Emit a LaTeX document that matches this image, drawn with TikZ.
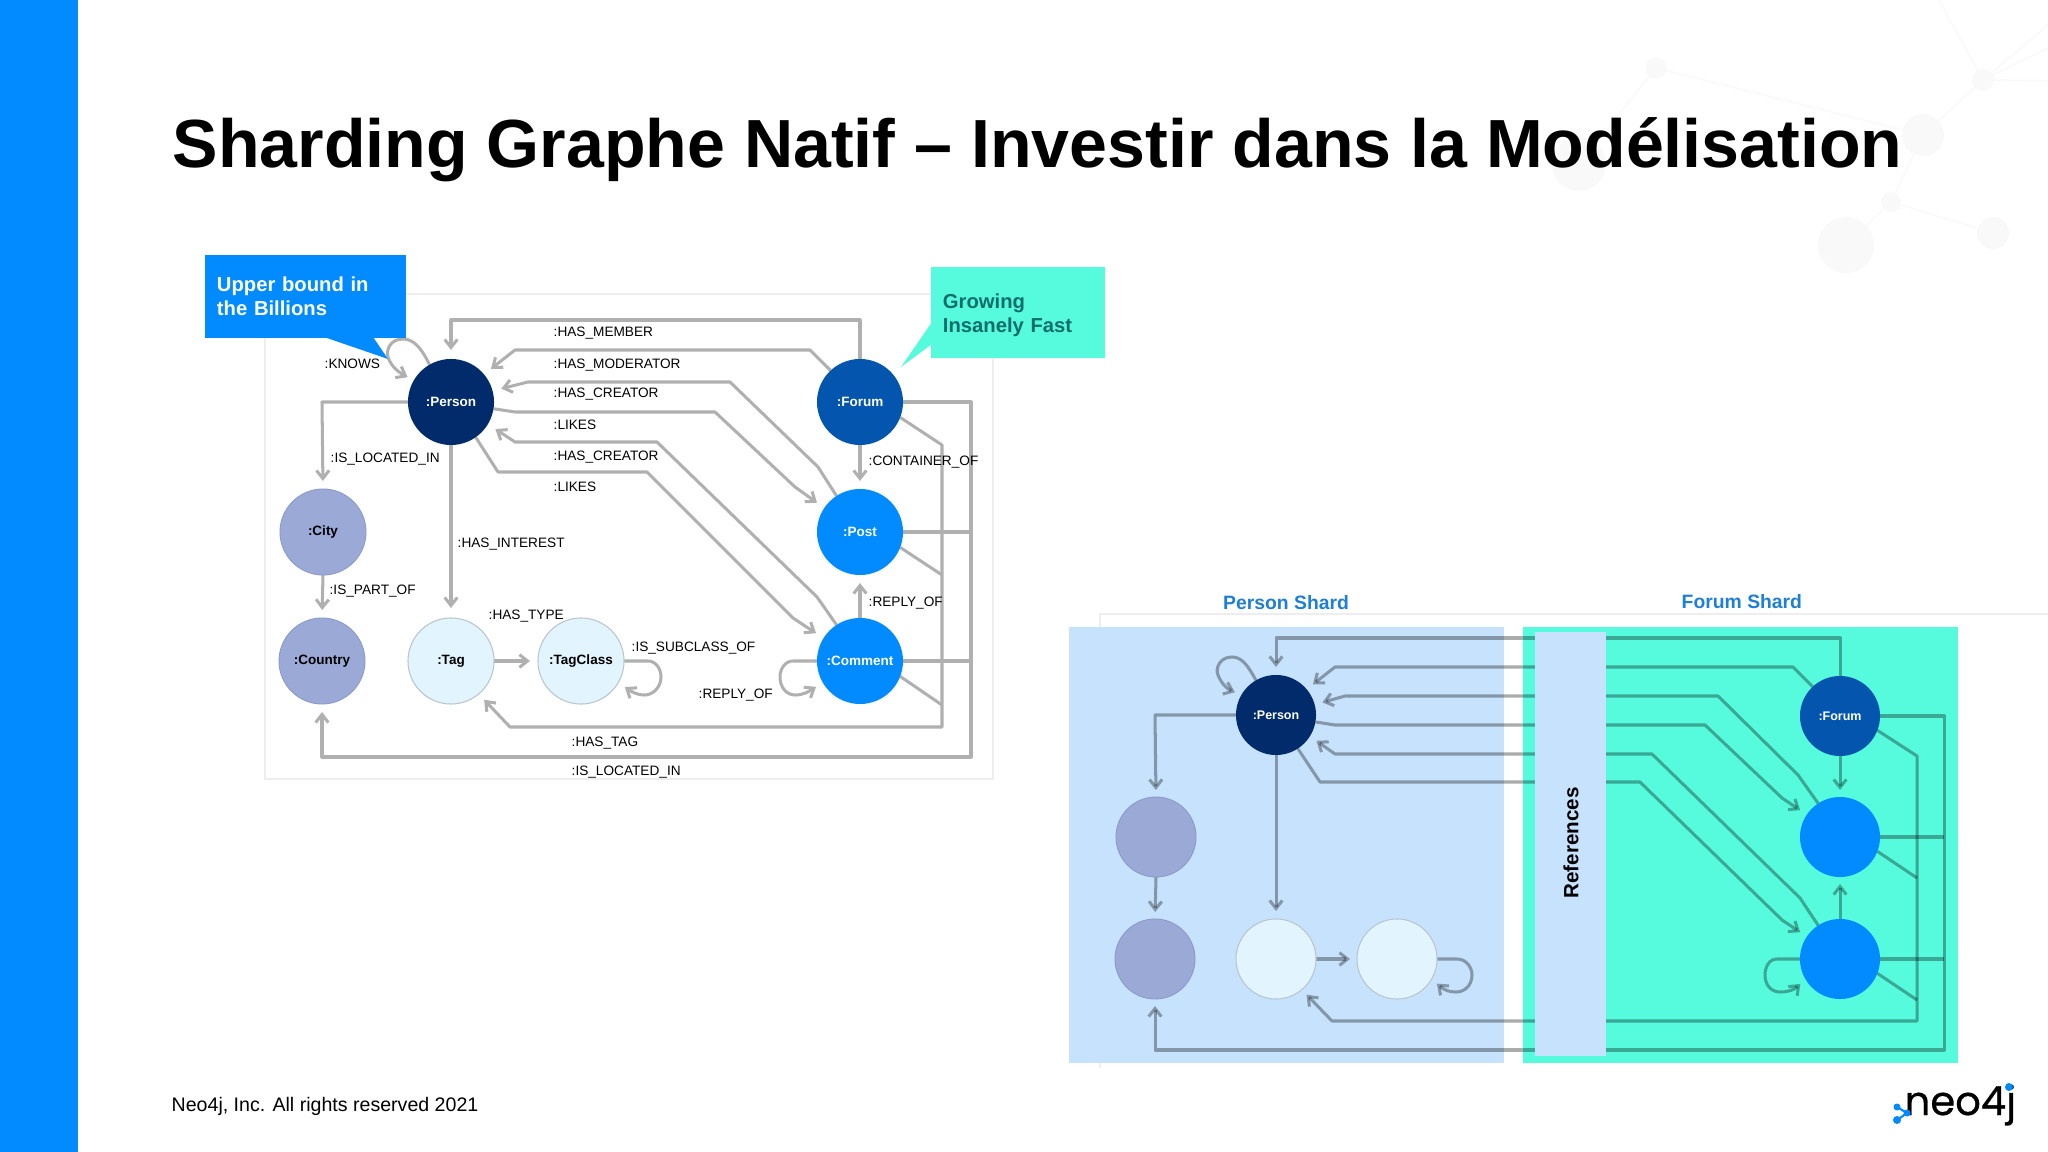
\documentclass[tikz,border=0pt]{standalone}
\usepackage{fontspec}
\usetikzlibrary{arrows.meta}
\setmainfont{Liberation Sans}
\newfontfamily\logofont[FakeBold=0.7]{Poppins}
\definecolor{barblue}{HTML}{018BFF}
\definecolor{teal}{HTML}{56FBDE}
\definecolor{shardblue}{HTML}{C6E2FD}
\definecolor{navy}{HTML}{012B6B}
\definecolor{forumblue}{HTML}{0455AE}
\definecolor{lav}{HTML}{9AA9D6}
\definecolor{pale}{HTML}{E2F4FD}
\definecolor{palerim}{HTML}{B9C6CE}
\definecolor{lavrim}{HTML}{8B9AC8}
\definecolor{edgegray}{HTML}{B0B0B0}
\definecolor{paneledge}{HTML}{EEEEF0}
\definecolor{faint}{HTML}{F9F9F9}
\definecolor{fainter}{HTML}{FAFAFA}
\definecolor{shardtext}{HTML}{1F7FD6}
\definecolor{tealtext}{HTML}{0F6E6C}
\pgfdeclarelayer{bg}
\pgfdeclarelayer{lines}
\pgfsetlayers{bg,lines,main}
\tikzset{
  gnode/.style={circle,inner sep=0,outer sep=0,minimum size=.86cm,font=\fontsize{3.84pt}{4.6pt}\selectfont\bfseries},
  snode/.style={circle,inner sep=0,outer sep=0,minimum size=.80cm,font=\fontsize{3.55pt}{4.4pt}\selectfont\bfseries},
  cnavy/.style={fill=navy,text=white},
  cforum/.style={fill=forumblue,text=white},
  cblue/.style={fill=barblue,text=white},
  clav/.style={fill=lav,draw=lavrim,line width=.25pt,text=black},
  cpale/.style={fill=pale,draw=palerim,line width=.3pt,text=black},
  glink/.style={draw=edgegray,line width=.86pt,line join=round},
  slink/.style={draw=black,draw opacity=.33,line width=.86pt,line join=round},
  arr/.style={-{Straight Barb[length=2.3pt,width=3.6pt]},shorten >=#1},
  arr/.default=.09cm,
  lbl/.style={anchor=west,inner sep=0,yshift=-.013cm,font=\fontsize{3.88pt}{4.8pt}\selectfont,text=black},
  callout/.style={rectangle,inner ysep=0,inner xsep=0,align=left,anchor=center,font=\fontsize{5.75pt}{6.95pt}\selectfont\bfseries},
  shardtitle/.style={anchor=base west,inner sep=0,font=\fontsize{5.5pt}{6pt}\selectfont\bfseries,text=shardtext},
  deco/.style={draw=fainter,line width=.5pt},
  decod/.style={circle,fill=faint,inner sep=0,outer sep=0},
}
\begin{document}
\begin{tikzpicture}[x=.01cm,y=-.01cm]
\useasboundingbox (0,0) rectangle (2048,1152);

% background decoration
\begin{pgfonlayer}{bg}
\fill[white] (0,0) rectangle (2048,1152);
\node[decod,minimum size=.22cm] (da) at (1983,80) {};
\node[decod,minimum size=.42cm] (db) at (1923,135) {};
\node[decod,minimum size=.20cm] (dc) at (1891,202) {};
\node[decod,minimum size=.56cm] (dd) at (1846,245) {};
\node[decod,minimum size=.32cm] (de) at (1993,233) {};
\node[decod,minimum size=.21cm] (df) at (1656,68) {};
\node[decod,minimum size=.54cm] (dg) at (1579,164) {};
\coordinate (d1) at (1939,0);
\coordinate (d2) at (2048,25);
\coordinate (d3) at (2048,48);
\coordinate (d4) at (2048,81);
\draw[deco] (da)--(d1) (da)--(d2) (da)--(d3) (da)--(d4) (da)--(db) (db)--(dc) (dc)--(dd) (dc)--(de) (db)--(df) (df)--(dg);
% sidebar
\fill[barblue] (0,0) rectangle (78,1152);
% panels
\draw[paneledge,line width=.35pt] (265,294) rectangle (993,779);
\draw[paneledge,line width=.35pt] (2048,614) -- (1100,614) -- (1100,1068);
\fill[shardblue] (1069,627) rectangle (1504,1063);
\fill[teal] (1523,627) rectangle (1958,1063);
\end{pgfonlayer}

% title and footer
\node[anchor=base west,inner sep=0,font=\fontsize{19.37pt}{22pt}\selectfont\bfseries] (title) at (172,167.5) {Sharding Graphe Natif – Investir dans la Modélisation};
\node[anchor=base west,inner sep=0,font=\fontsize{5.57pt}{7pt}\selectfont] (foot) at (171,1111) {Neo4j, Inc. All rights reserved 2021};

% left graph nodes
\node[gnode,cnavy] (pe) at (451,402) {:Person};
\node[gnode,cforum] (fo) at (860,402) {:Forum};
\node[gnode,cblue] (po) at (860,532) {:Post};
\node[gnode,cblue] (co) at (860,661) {:Comment};
\node[gnode,clav] (ci) at (323,532) {:City};
\node[gnode,clav] (cn) at (322,661) {:Country};
\node[gnode,cpale] (ta) at (451,661) {:Tag\hspace{2.2pt}};
\node[gnode,cpale] (tc) at (581,661) {:TagClass};

\begin{pgfonlayer}{lines}
\draw[glink,arr] (fo.north) -- (860,320) -- (451,320) -- (pe.north);
\draw[glink,arr] (fo.133) -- (810,350) -- (515,350) -- (pe.40);
\draw[glink,arr] (po.123) -- (818,467) -- (730,382) -- (528,382) -- (pe.15);
\draw[glink,arr] (pe.-9) -- (515,412) -- (715,412) -- (795,487) -- (po.146);
\draw[glink,arr] (co.123) -- (817,597) -- (657,442) -- (515,442) -- (pe.-31);
\draw[glink,arr] (pe.-55) -- (498,472) -- (647,472) -- (793,618) -- (co.148);
\draw[glink,arr=.08cm] (pe.west) -- (322,402) -- (ci.north);
\draw[glink,arr=.1cm] (pe.south) -- (ta.north);
\draw[glink,arr=.08cm] (ci.south) -- (cn.north);
\draw[glink,arr=.08cm] (ta.east) -- (tc.west);
\draw[glink,arr=.08cm] (co.north) -- (po.south);
\draw[glink,arr=.08cm] (fo.south) -- (po.north);
\draw[glink,arr=.07cm] (pe.120) .. controls (421,347) and (413,339) .. (403,339) .. controls (390,339) and (386,350) .. (388,357) .. controls (391,367) and (400,373) .. (pe.150);
\draw[glink,arr=.08cm] (tc.east) -- (648,661) .. controls (656,661) and (661,669) .. (661,677) .. controls (661,688) and (652,695) .. (645,695) .. controls (637,695) and (632,692) .. (tc.-30);
\draw[glink,arr=.08cm] (co.west) -- (793,661) .. controls (785,661) and (780,669) .. (780,677) .. controls (780,688) and (787,695) .. (795,695) .. controls (803,695) and (808,692) .. (co.210);
\draw[glink,arr=.08cm] (fo.east) -- (971,402) -- (971,757) -- (322,757) -- (cn.south);
\draw[glink] (po.east) -- (971,532);
\draw[glink] (co.east) -- (971,661);
\draw[glink,arr=.08cm] (fo.-21) -- (942,445) -- (942,727) -- (510,727) -- (ta.-50);
\draw[glink] (po.-21) -- (942,575);
\draw[glink] (co.-21) -- (942,705);
\end{pgfonlayer}

% left labels
\node[lbl] (l1) at (553,332) {:HAS\_MEMBER};
\node[lbl] (l2) at (553,364) {:HAS\_MODERATOR};
\node[lbl] (l3) at (553,393) {:HAS\_CREATOR};
\node[lbl] (l4) at (553,424) {:LIKES};
\node[lbl] (l5) at (553,456) {:HAS\_CREATOR};
\node[lbl] (l6) at (553,486) {:LIKES};
\node[lbl] (l7) at (324,363) {:KNOWS};
\node[lbl] (l8) at (330,458) {:IS\_LOCATED\_IN};
\node[lbl] (l9) at (457,543) {:HAS\_INTEREST};
\node[lbl] (l10) at (329,590) {:IS\_PART\_OF};
\node[lbl] (l11) at (488,615) {:HAS\_TYPE};
\node[lbl] (l12) at (631,647) {:IS\_SUBCLASS\_OF};
\node[lbl] (l13) at (698,694) {:REPLY\_OF};
\node[lbl] (l14) at (868,602) {:REPLY\_OF};
\node[lbl] (l15) at (868,461) {:CONTAINER\_OF};
\node[lbl] (l16) at (571,742) {:HAS\_TAG};
\node[lbl] (l17) at (571,771) {:IS\_LOCATED\_IN};

% callouts
\fill[barblue] (324,337) -- (388,359) -- (373,337) -- cycle;
\fill[barblue] (205,255) rectangle (406,338);
\node[callout,text=white,text width=1.77cm] (cb1) at (305.5,296) {Upper bound in\\the Billions};
\fill[teal] (932,322) -- (901,367) -- (932,344) -- cycle;
\fill[teal] (931,267) rectangle (1105,358);
\node[callout,text=tealtext,text width=1.50cm] (cb2) at (1018,315) {Growing\\Insanely Fast};

% right graph nodes
\node[snode,cnavy] (rpe) at (1276,715) {:Person};
\node[snode,clav] (rci) at (1156,837) {};
\node[snode,clav] (rcn) at (1155,959) {};
\node[snode,cpale] (rta) at (1276,959) {};
\node[snode,cpale] (rtc) at (1397,959) {};
\node[snode,cforum] (rfo) at (1840,716) {:Forum};
\node[snode,cblue] (rpo) at (1840,837) {};
\node[snode,cblue] (rco) at (1840,959) {};

% references box
\fill[shardblue] (1535,632) rectangle (1606,1056);
\node[rotate=90,inner sep=0,font=\fontsize{5.86pt}{7pt}\selectfont\bfseries] (refs) at (1571,843) {References};

\begin{pgfonlayer}{lines}
\draw[slink,arr=.08cm] (rfo.north) -- (1840,638) -- (1276,638) -- (rpe.north);
\draw[slink,arr=.08cm] (rfo.133) -- (1793,667) -- (1335,667) -- (rpe.40);
\draw[slink,arr=.08cm] (rpo.123) -- (1798,775) -- (1718,696) -- (1345,696) -- (rpe.15);
\draw[slink,arr=.08cm] (rpe.-10) -- (1335,725) -- (1705,725) -- (1782,798) -- (rpo.146);
\draw[slink,arr=.08cm] (rco.123) -- (1800,898) -- (1652,754) -- (1335,754) -- (rpe.-32);
\draw[slink,arr=.08cm] (rpe.-57) -- (1320,782) -- (1640,782) -- (1782,920) -- (rco.146);
\draw[slink,arr=.07cm] (rpe.west) -- (1155,715) -- (rci.north);
\draw[slink,arr=.08cm] (rpe.south) -- (rta.north);
\draw[slink,arr=.07cm] (rci.south) -- (rcn.north);
\draw[slink,arr=.07cm] (rta.east) -- (rtc.west);
\draw[slink,arr=.07cm] (rfo.south) -- (rpo.north);
\draw[slink,arr=.07cm] (rco.north) -- (rpo.south);
\draw[slink,arr=.07cm] (rpe.120) .. controls (1249,668) and (1243,657) .. (1232,657) .. controls (1220,657) and (1215,668) .. (1218,675) .. controls (1221,683) and (1227,689) .. (rpe.150);
\draw[slink,arr=.07cm] (rtc.east) -- (1457,959) .. controls (1466,959) and (1472,967) .. (1472,975) .. controls (1472,986) and (1464,992) .. (1456,992) .. controls (1449,992) and (1444,990) .. (rtc.-30);
\draw[slink,arr=.07cm] (rco.west) -- (1777,959) .. controls (1769,959) and (1765,967) .. (1765,975) .. controls (1765,986) and (1772,992) .. (1780,992) .. controls (1788,992) and (1794,990) .. (rco.210);
\draw[slink,arr=.07cm] (rfo.east) -- (1944,716) -- (1944,1050) -- (1155,1050) -- (rcn.south);
\draw[slink] (rpo.east) -- (1944,837);
\draw[slink] (rco.east) -- (1944,959);
\draw[slink,arr=.07cm] (rfo.-21) -- (1917,756) -- (1917,1021) -- (1332,1021) -- (rta.-50);
\draw[slink] (rpo.-21) -- (1917,878);
\draw[slink] (rco.-21) -- (1917,1000);
\end{pgfonlayer}

% shard titles
\node[shardtitle] (st1) at (1222.5,610) {Person Shard};
\node[shardtitle] (st2) at (1681,609) {Forum Shard};

% logo
\node[anchor=base west,inner sep=0,font=\logofont\fontsize{11.4pt}{12pt}\selectfont] (logo) at (1904,1115) {neo4j};
\fill[barblue] (2009,1087) circle (4);
\coordinate (ic1) at (1897,1107);
\coordinate (ic2) at (1907,1113);
\coordinate (ic3) at (1897,1120);
\draw[barblue,line width=.6pt] (ic1) -- (ic2) -- (ic3);
\fill[barblue] (ic1) circle (3.5) (ic2) circle (3.5) (ic3) circle (4);
\end{tikzpicture}
\end{document}
